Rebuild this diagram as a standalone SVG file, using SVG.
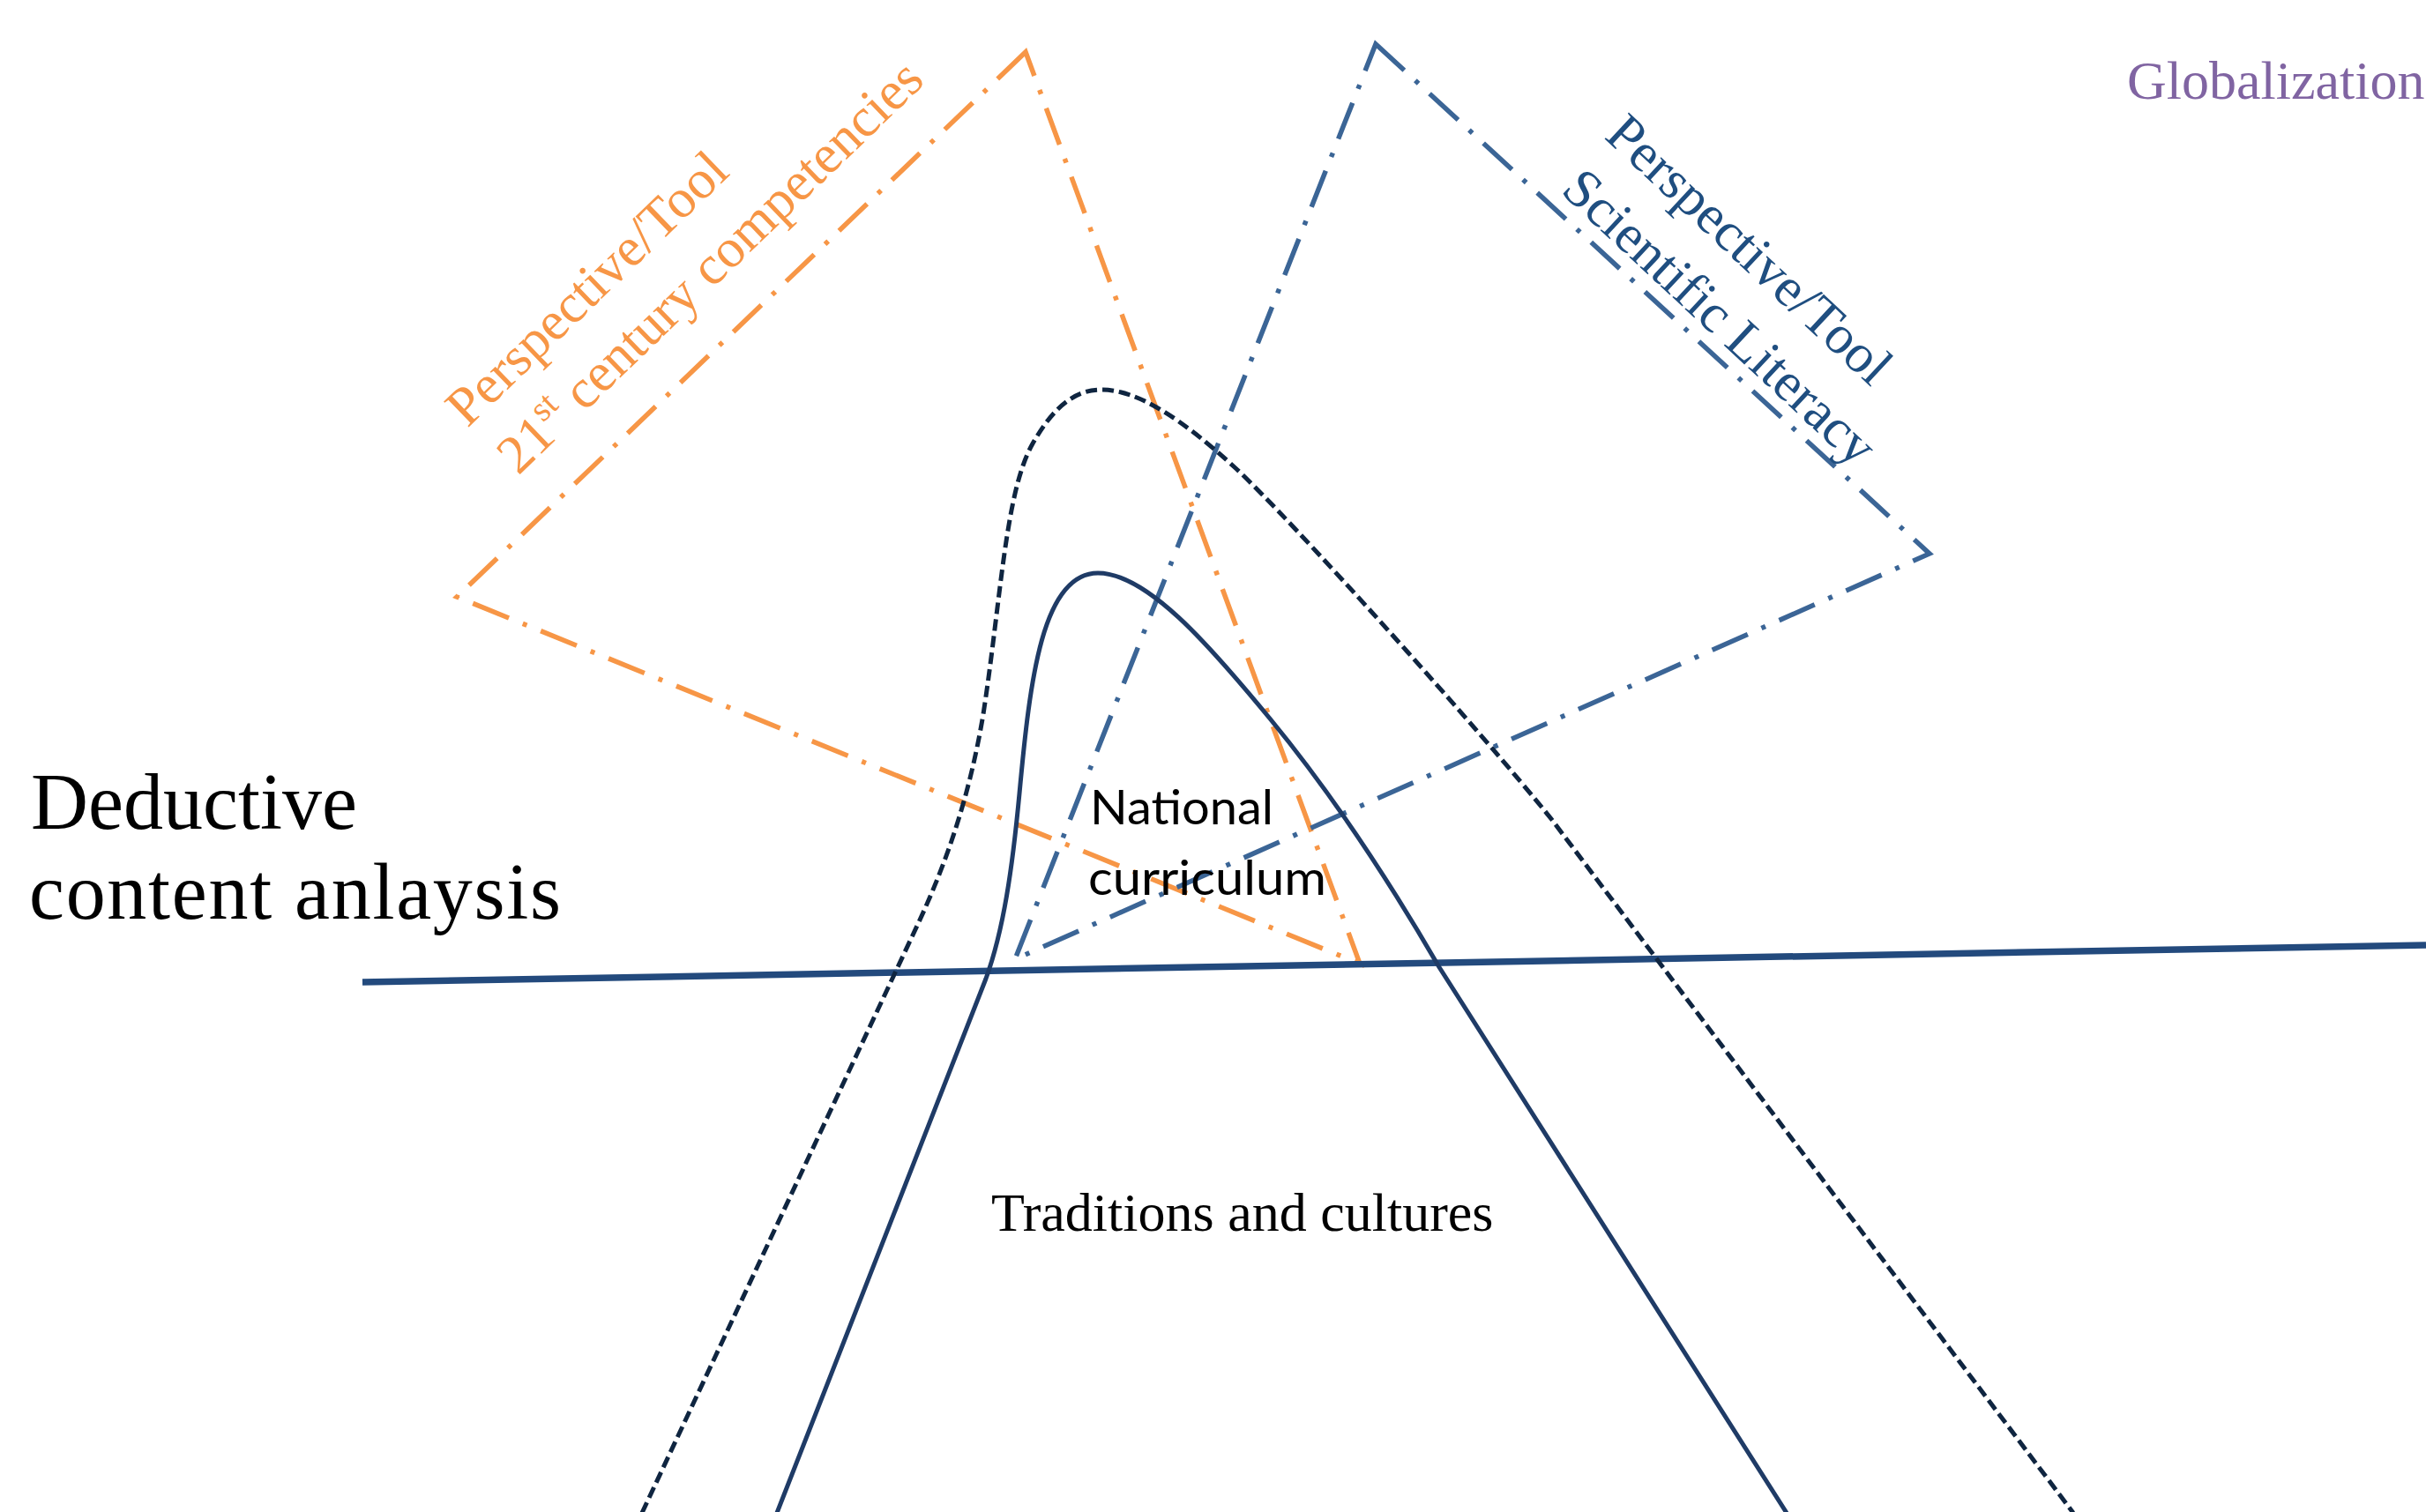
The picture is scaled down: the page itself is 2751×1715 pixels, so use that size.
<svg xmlns="http://www.w3.org/2000/svg" width="2751" height="1715" viewBox="0 0 2751 1715">
  <style>
    .serif { font-family: "Liberation Serif", "Times New Roman", serif; }
    .sans { font-family: Lato, "Liberation Sans", sans-serif; }
    .tri { fill: none; stroke-width: 5.5; stroke-dasharray: 44 17 5 17; stroke-linejoin: miter; }
    .tri-orange { stroke: #F79646; }
    .tri-blue { stroke: #3B6596; }
    .axis { fill: none; stroke: #234A7D; stroke-width: 7.5; }
    .curve { fill: none; stroke: #1F3B66; stroke-width: 5; }
    .curve-dashed { fill: none; stroke: #0F2540; stroke-width: 5; stroke-dasharray: 13 6; }
  </style>

  <rect width="2751" height="1715" fill="#FFFFFF"/>

  <!-- connectors: framing lines and outlines -->
  <g id="connectors">
    <!-- 21st century competencies perspective -->
    <polygon class="tri tri-orange" points="1163,59 518,677 1542,1093"/>
    <!-- scientific literacy perspective -->
    <polygon class="tri tri-blue" points="1560,50 2188,628 1151,1088"/>
    <!-- deductive analysis level -->
    <line class="axis" x1="411" y1="1114" x2="2751" y2="1072"/>
    <!-- outer dashed mound -->
    <path class="curve-dashed" d="M 728 1716 L 1040 1050 C 1075 975 1100 900 1115 810 C 1135 680 1140 560 1170 505 C 1195 460 1220 442 1249 442 C 1290 442 1340 475 1400 530 C 1460 585 1680 830 1760 930 L 2351 1716"/>
    <!-- inner solid mound -->
    <path class="curve" d="M 881 1716 L 1118 1110 C 1138 1055 1148 985 1156 900 C 1168 770 1182 650 1245 650 C 1300 650 1370 730 1440 815 C 1510 900 1570 990 1632 1097 L 2026 1716"/>
  </g>

  <g id="deductive-label">
    <text class="serif" font-size="90" fill="#000000">
      <tspan x="35" y="940">Deductive</tspan>
      <tspan x="33" y="1042" textLength="603" lengthAdjust="spacing">content anlaysis</tspan>
    </text>
  </g>

  <g id="globalization">
    <text class="serif" x="2412" y="112" font-size="62" fill="#8064A2">Globalization</text>
  </g>

  <g id="competencies-label" transform="translate(530,486) rotate(-44)">
    <text class="serif" font-size="62" fill="#F79646">
      <tspan x="0" y="0">Perspective/Tool</tspan>
      <tspan x="4" y="79">21</tspan><tspan font-size="40" dy="-24">st</tspan><tspan dy="24"> century competencies</tspan>
    </text>
  </g>

  <g id="literacy-label" transform="translate(1818,156) rotate(43)">
    <text class="serif" font-size="62" fill="#1F4E80">
      <tspan x="0" y="0">Perspective/Tool</tspan>
      <tspan x="6" y="79">Scientific Literacy</tspan>
    </text>
  </g>

  <g id="national-curriculum">
    <text class="sans" font-size="54" fill="#000000">
      <tspan x="1236" y="935" textLength="208" lengthAdjust="spacingAndGlyphs">National</tspan>
      <tspan x="1234" y="1015" textLength="270" lengthAdjust="spacingAndGlyphs">curriculum</tspan>
    </text>
  </g>

  <g id="traditions">
    <text class="serif" x="1124" y="1396" font-size="62" fill="#000000">Traditions and cultures</text>
  </g>
</svg>
